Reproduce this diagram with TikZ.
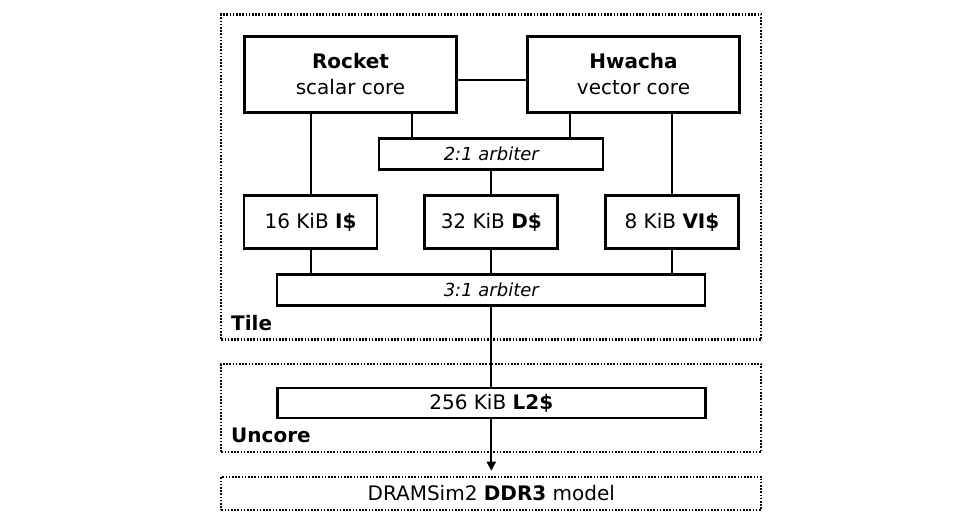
\documentclass[tikz,border=0pt]{standalone}
\usepackage{fontspec}
\setmainfont{DejaVu Sans}
\usetikzlibrary{arrows.meta,calc}

\begin{document}
\begin{tikzpicture}[x=1pt,y=-1pt,-]
    \tikzstyle{core}=[rectangle,draw=black,line width=3.4pt,minimum width=212pt,minimum height=76pt,inner sep=0pt,align=center,font=\fontsize{20}{26}\selectfont]
    \tikzstyle{cache}=[rectangle,draw=black,line width=2.8pt,minimum width=133pt,minimum height=53pt,inner sep=0pt,font=\fontsize{20}{24}\selectfont]
    \tikzstyle{arbiter}=[rectangle,draw=black,line width=2.2pt,minimum height=31pt,inner sep=0pt,font=\fontsize{18}{22}\selectfont\itshape]
    \tikzstyle{region}=[rectangle,draw=black,line width=2.2pt,dash pattern=on 1.6pt off 1.6pt,inner sep=0pt,font=\fontsize{20}{24}\selectfont]
    \tikzstyle{regionlabel}=[anchor=west,inner sep=0pt,font=\fontsize{20}{24}\selectfont\bfseries]
    \tikzstyle{wire}=[line width=2pt]
    \useasboundingbox (0,0) rectangle (963,524);

    % tile
    \node[region,minimum width=540pt,minimum height=325pt] (tile) at (491.3,177) {};
    \node[regionlabel] (tilelbl) at (231,323) {Tile};
    \node[core] (rocket) at (350.5,74.5) {\textbf{Rocket}\\scalar core};
    \node[core] (hwacha) at (633.5,74.5) {\textbf{Hwacha}\\vector core};
    \node[arbiter,minimum width=224pt] (arb2) at (491.3,154) {2:1 arbiter};
    \foreach \cname/\cx/\ckib/\clabel in {icache/310.5/16/I, dcache/491.3/32/D, vicache/672/8/VI}
        \node[cache] (\cname) at (\cx,222) {\ckib{} KiB \textbf{\clabel\$}};
    \node[arbiter,minimum width=428pt] (arb3) at (491.3,290) {3:1 arbiter};

    % uncore and memory
    \node[region,minimum width=540pt,minimum height=88pt] (uncore) at (491.3,408) {};
    \node[regionlabel] (uncorelbl) at (231,435) {Uncore};
    \node[cache,minimum width=428pt,minimum height=30pt] (l2) at (491.3,403) {256 KiB \textbf{L2\$}};
    \node[region,minimum width=540pt,minimum height=33pt] (dram) at (491.3,493.3) {DRAMSim2 \textbf{DDR3} model};

    \coordinate (arb2-r) at ($(arb2.north west)!0.15!(arb2.north east)$);
    \coordinate (arb2-h) at ($(arb2.north west)!0.85!(arb2.north east)$);

    \draw[wire] ([yshift=-6pt]rocket.east) -- ([yshift=-6pt]hwacha.west);
    \draw[wire] (icache.north) -- (icache.north |- rocket.south);
    \draw[wire] (vicache.north) -- (vicache.north |- hwacha.south);
    \draw[wire] (arb2-r) -- (arb2-r |- rocket.south);
    \draw[wire] (arb2-h) -- (arb2-h |- hwacha.south);
    \draw[wire] (arb2.south) -- (dcache.north);
    \foreach \cname in {icache,dcache,vicache}
        \draw[wire] (\cname.south) -- (\cname.south |- arb3.north);
    \draw[wire] (arb3.south) -- (l2.north);
    \draw[wire,-{Triangle[length=9pt,width=9pt]},shorten >=5pt] (l2.south) -- (dram.north);
\end{tikzpicture}
\end{document}
